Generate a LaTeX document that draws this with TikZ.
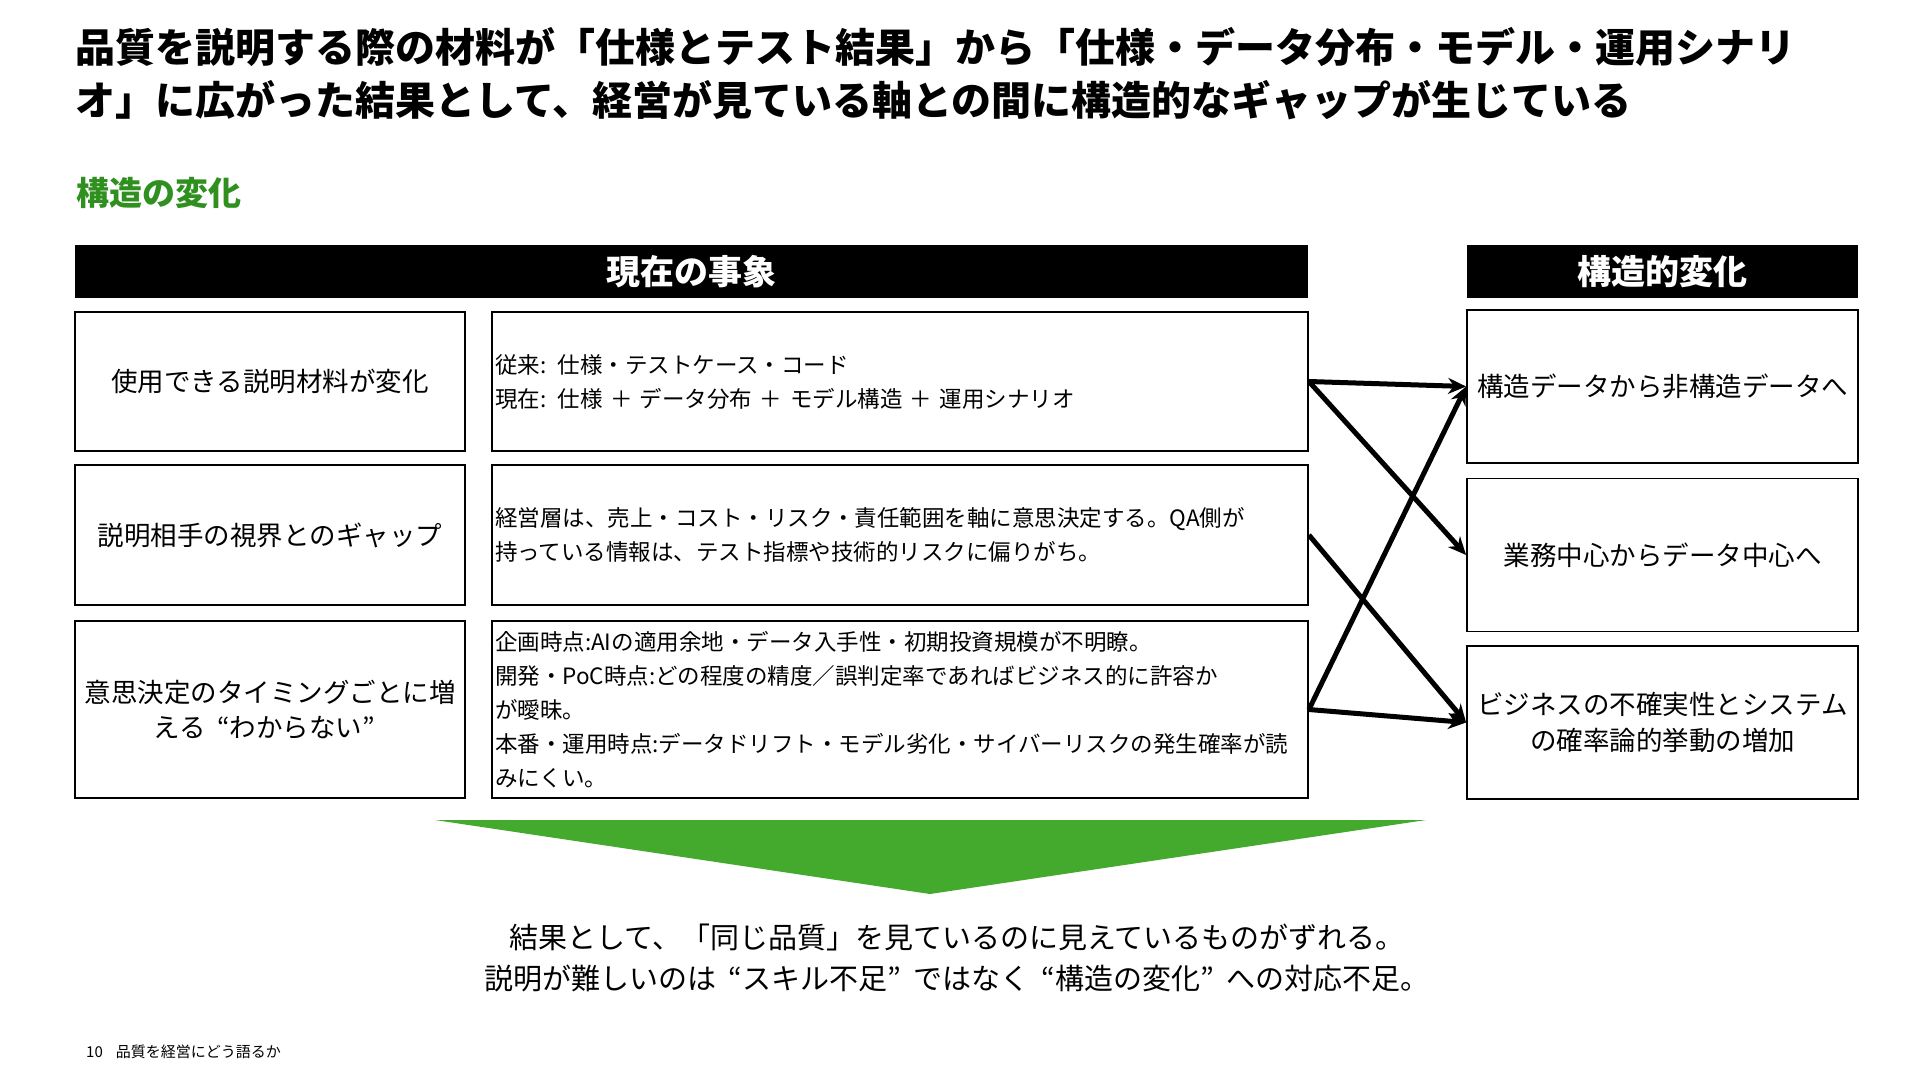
\documentclass[tikz,border=0pt]{standalone}
\usepackage{fontspec}
\setmainfont{Noto Sans CJK JP}
\usetikzlibrary{arrows.meta}
% full-width quotation marks
\newcommand{\jlq}{\makebox[0.9em][r]{“}}
\newcommand{\jrq}{\makebox[0.9em][l]{”}}

\begin{document}
\begin{tikzpicture}[x=1pt, y=-1pt,
  box/.style={draw=black, line width=1.8pt, rectangle, inner sep=2pt},
  headbar/.style={fill=black, text=white, minimum height=53pt, inner sep=0pt,
    font=\fontsize{34}{40}\selectfont\bfseries},
  lefttxt/.style={align=center, font=\fontsize{26.5}{35.5}\selectfont},
  midtxt/.style={text width=810pt, align=left, font=\fontsize{22.5}{34}\selectfont},
  conn/.style={line width=5pt, -{Stealth[length=18pt, width=16pt]}}]
  \definecolor{kgreen}{HTML}{2F8F1F}
  \definecolor{agreen}{HTML}{44AA2E}
  \useasboundingbox (0,0) rectangle (1920,1080);

  % ---- title and section label ---------------------------------------------
  \node[anchor=west, align=left, inner sep=0pt,
        font=\fontsize{40}{53}\selectfont\bfseries] (title) at (75,73.5)
    {品質を説明する際の材料が「仕様とテスト結果」から「仕様・データ分布・モデル・運用シナリ\\オ」に広がった結果として、経営が見ている軸との間に構造的なギャップが生じている};
  \node[anchor=west, inner sep=0pt, text=kgreen,
        font=\fontsize{33}{40}\selectfont\bfseries] (sect) at (76,193) {構造の変化};

  % ---- column headers ------------------------------------------------------
  \node[headbar, minimum width=1233pt] (cur) at (691.5,271.5) {現在の事象};
  \node[headbar, minimum width=391pt] (chg) at (1662.5,271.5) {構造的変化};

  % ---- one row per topic: left label, middle detail ------------------------
  \foreach \i/\yy/\hh/\lt/\mt in {%
    1/381.5/139/{使用できる説明材料が変化}/%
      {従来: 仕様・テストケース・コード\\現在: 仕様 ＋ データ分布 ＋ モデル構造 ＋ 運用シナリオ},
    2/535/140/{説明相手の視界とのギャップ}/%
      {経営層は、売上・コスト・リスク・責任範囲を軸に意思決定する。QA側が\\持っている情報は、テスト指標や技術的リスクに偏りがち。},
    3/709.5/177/{意思決定のタイミングごとに増\\える\jlq わからない\jrq}/%
      {企画時点:AIの適用余地・データ入手性・初期投資規模が不明瞭。\\開発・PoC時点:どの程度の精度／誤判定率であればビジネス的に許容か\\が曖昧。\\本番・運用時点:データドリフト・モデル劣化・サイバーリスクの発生確率が読\\みにくい。}%
  }{
    \node[box, lefttxt, minimum width=390pt, minimum height=\hh pt] (l\i) at (270,\yy) {\lt};
    \node[box, midtxt, minimum width=816pt, minimum height=\hh pt] (m\i) at (900,\yy) {\mt};
  }

  % ---- structural changes --------------------------------------------------
  \foreach \i/\yy/\rt in {%
    1/386.5/{構造データから非構造データへ},
    2/555/{業務中心からデータ中心へ},
    3/722.5/{ビジネスの不確実性とシステム\\の確率論的挙動の増加}%
  }{
    \node[box, lefttxt, minimum width=391pt, minimum height=153pt] (r\i) at (1662.5,\yy) {\rt};
  }

  % ---- connectors ----------------------------------------------------------
  \draw[conn] (m1.east) -- (r1.west);
  \draw[conn] (m1.east) -- (r2.west);
  \draw[conn] (m2.east) -- (r3.west);
  \draw[conn] (m3.east) -- (r1.west);
  \draw[conn] (m3.east) -- (r3.west);

  % ---- down arrow and conclusion -------------------------------------------
  \fill[agreen] (435,820) -- (1426,820) -- (930,894) -- cycle;
  \node[align=center, inner sep=0pt, font=\fontsize{29}{41}\selectfont] (concl) at (957,957.5)
    {結果として、「同じ品質」を見ているのに見えているものがずれる。\\説明が難しいのは\jlq スキル不足\jrq ではなく\jlq 構造の変化\jrq への対応不足。};

  % ---- footer --------------------------------------------------------------
  \node[anchor=west, inner sep=0pt, font=\fontsize{15}{18}\selectfont] (foot) at (86,1052)
    {10\hspace{13pt}品質を経営にどう語るか};
\end{tikzpicture}
\end{document}
